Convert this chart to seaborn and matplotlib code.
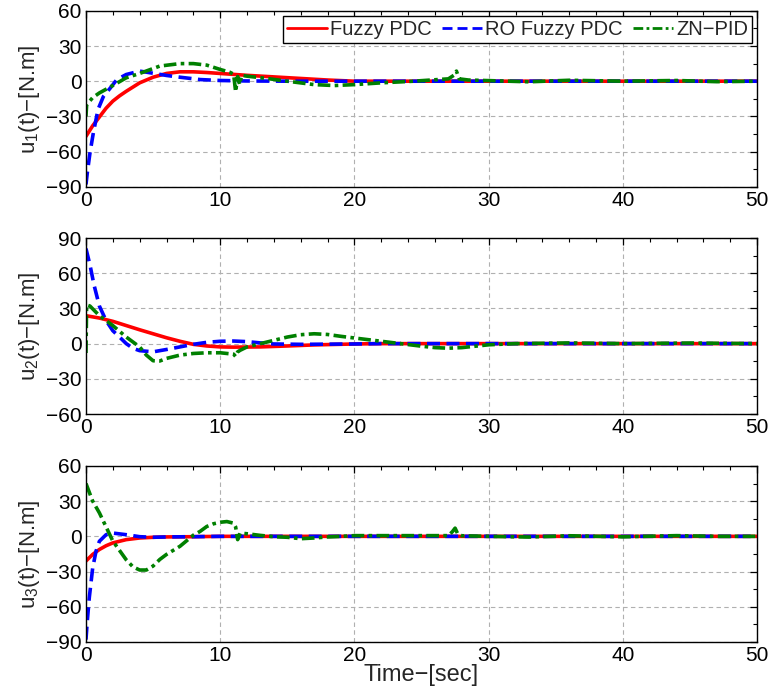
import numpy as np
import pandas as pd
import matplotlib
matplotlib.use("Agg")
import matplotlib.pyplot as plt
import seaborn as sns
from matplotlib.ticker import MultipleLocator

# ---------------- data ----------------
series_names = ["Fuzzy PDC", "RO Fuzzy PDC", "ZN\u2212PID"]

# Panel 1 : u1
t1_fz = [0, 0.5, 1, 1.5, 2, 2.5, 3, 4, 5, 6, 7, 8, 9, 10, 12, 15, 18, 20, 25, 30, 40, 50]
u1_fz = [-47, -38, -30.5, -23, -17, -12.5, -8.6, -1.4, 3.4, 6.6, 8, 8, 7.4, 6.6, 5, 3, 1, 0, 0, 0, 0, 0]
t1_ro = [0, 0.1, 0.3, 0.55, 0.9, 1.3, 1.8, 2.3, 3, 4, 4.5, 6, 7, 8.5, 10, 12, 15, 20, 50]
u1_ro = [-88, -78, -61, -44, -24, -13, -6, 1.4, 5.7, 8.6, 7.7, 4.9, 3.4, 1.4, 0.6, 0.2, 0, 0, 0]
t1_zn = [0, 0.05, 0.5, 1, 2, 3, 4, 5.5, 7, 8, 9, 10, 10.7, 11.0, 11.15, 11.3, 11.45, 11.6, 12,
         13.5, 15, 17, 18.5, 20, 22, 24.4, 27, 27.4, 27.6, 27.8, 28.5, 30, 33, 36, 40, 44, 47, 50]
u1_zn = [-30, -20, -14, -10, -3.7, 2.9, 6.6, 12.9, 15, 15, 13.7, 10, 7.7, 6, -9, 4, -3, 5, 4.3,
         2.3, 0, -2.9, -3.7, -2.9, -1.4, 0, 2, 5, 8.6, 2, 1, 0.5, -0.5, 0.8, 0, 0.6, -0.4, 0]

# Panel 2 : u2
t2_fz = [0, 1, 2, 3, 4, 5, 6, 7, 8, 9, 10, 11, 13, 15, 17, 20, 22, 30, 50]
u2_fz = [23.8, 21.8, 19, 15.4, 11.8, 8.4, 5, 2, -0.6, -2, -2.8, -3, -2.8, -2, -1.1, -0.3, 0, 0, 0]
t2_ro = [0, 0.3, 0.6, 1, 1.5, 2, 2.5, 3, 3.5, 4, 5, 6, 7, 8, 9, 10, 11, 12, 13, 14, 16, 20, 22, 50]
u2_ro = [81, 67, 50, 32, 19.6, 11, 5.6, 0, -4, -6, -7, -5, -2.8, -0.6, 1.1, 2, 2.2, 1.7, 0.6, -0.3, -0.6, -0.3, 0, 0]
t2_zn = [0, 0.05, 0.3, 1, 2, 3, 4, 4.5, 5, 5.5, 6, 7, 8, 9, 10, 11, 11.15, 11.3, 11.5, 12, 13, 14,
         15, 16, 17, 18, 19, 20, 21, 22, 23, 24, 25, 26, 27, 28, 29, 30, 32, 36, 40, 45, 50]
u2_zn = [-8, 33, 32, 23.8, 15.4, 5.6, -2.8, -9.8, -14.6, -14.8, -12.6, -9.8, -8.4, -7.8, -7.8, -9,
         -11, -7, -5.6, -2.8, 0, 2.8, 5.6, 7.6, 8.4, 7.8, 6.2, 4.8, 3.4, 2, 0.6, -0.8, -2.2, -3.4,
         -3.9, -3.4, -2.2, -1, 0, 0.6, 0, 0.5, 0]

# Panel 3 : u3
t3_fz = [0, 0.5, 1, 1.5, 2, 3, 4, 5, 6, 8, 10, 50]
u3_fz = [-21, -15.4, -11.2, -8, -5.6, -2.8, -1.4, -0.8, -0.5, -0.3, 0, 0]
t3_ro = [0, 0.1, 0.25, 0.5, 0.75, 1, 1.5, 2, 3, 4, 5, 6, 8, 10, 50]
u3_ro = [-88, -72, -52, -27, -12.6, -4.2, 1.4, 2.8, 1.4, -0.3, -0.8, -0.5, -0.3, 0, 0]
t3_zn = [0, 0.5, 1, 1.5, 2, 2.5, 3, 3.5, 4, 4.5, 5, 5.5, 6, 7, 8, 8.5, 9, 9.5, 10, 10.5, 11,
         11.15, 11.3, 11.5, 12, 13, 14, 15, 16, 17, 18, 19, 20, 27, 27.3, 27.5, 27.7, 28,
         30, 33, 36, 40, 44, 47, 50]
u3_zn = [45, 30, 20, 8, -4, -12, -20, -26, -28.7, -28.7, -25.3, -19.7, -15.4, -8.5, 1, 4.2, 8.4,
         10.7, 12, 12.6, 11.2, 8, -2.8, 2.8, 2.2, 0.8, -0.3, -0.8, -2, -1.4, -0.5, 0, 0.6, 0.6,
         4, 7, 2, 0.5, 0, -0.6, 0.5, -0.4, 0.6, 0, 0]

panels = [
    [(t1_fz, u1_fz), (t1_ro, u1_ro), (t1_zn, u1_zn)],
    [(t2_fz, u2_fz), (t2_ro, u2_ro), (t2_zn, u2_zn)],
    [(t3_fz, u3_fz), (t3_ro, u3_ro), (t3_zn, u3_zn)],
]
ylabels = ["u$_1$(t)\u2212[N.m]", "u$_2$(t)\u2212[N.m]", "u$_3$(t)\u2212[N.m]"]
ylims = [(-90, 60), (-60, 90), (-90, 60)]
xlabel = "Time\u2212[sec]"

# ---------------- style ----------------
sns.set_style("white")
plt.rcParams["font.family"] = ["Liberation Sans", "DejaVu Sans"]
plt.rcParams["mathtext.fontset"] = "custom"
plt.rcParams["mathtext.rm"] = "Liberation Sans"
plt.rcParams["mathtext.it"] = "Liberation Sans"

colors = ["#ff0000", "#0000ff", "#008000"]
styles = ["-", (0, (3.6, 1.8)), (0, (3.5, 1.2, 1.0, 1.2))]
lws = [2.6, 2.6, 2.6]

fig = plt.figure(figsize=(7.71, 6.97), dpi=100)
left, width = 0.1115, 0.8705
bottoms = [0.732, 0.406, 0.079]
height = 0.2525

axes = []
for i in range(3):
    ax = fig.add_axes([left, bottoms[i], width, height])
    axes.append(ax)
    for j, (tt, uu) in enumerate(panels[i]):
        df = pd.DataFrame({"t": tt, "u": uu})
        sns.lineplot(data=df, x="t", y="u", ax=ax, color=colors[j], lw=lws[j],
                     linestyle=styles[j], estimator=None, sort=True,
                     label=series_names[j] if i == 0 else None, legend=False)
    ax.set_xlim(0, 50)
    ax.set_ylim(*ylims[i])
    ax.xaxis.set_major_locator(MultipleLocator(10))
    ax.xaxis.set_minor_locator(MultipleLocator(2))
    ax.yaxis.set_major_locator(MultipleLocator(30))
    ax.yaxis.set_minor_locator(MultipleLocator(15))
    ax.grid(True, which="major", linestyle=(0, (4, 3)), color="#b0b0b0", lw=0.8)
    ax.tick_params(which="both", direction="in", top=True, right=True,
                   labelsize=15, colors="black", pad=3)
    ax.tick_params(which="major", length=5, width=0.9)
    ax.tick_params(which="minor", length=3, width=0.8)
    for s in ax.spines.values():
        s.set_color("black")
        s.set_linewidth(1.0)
    ax.set_ylabel(ylabels[i], fontsize=16, labelpad=3)
    ax.set_xlabel("")

axes[2].set_xlabel(xlabel, fontsize=17, labelpad=-1)

handles, labels = axes[0].get_legend_handles_labels()
leg = axes[0].legend(handles, labels, loc="upper right", ncol=3, fontsize=14.5,
                     frameon=True, fancybox=False, framealpha=1, edgecolor="black",
                     handlelength=2.0, handletextpad=0.15, columnspacing=0.5,
                     borderpad=0.2, borderaxespad=0.25)
leg.get_frame().set_linewidth(1.0)
for lh in leg.get_lines():
    lh.set_linewidth(2.0)

fig.savefig("out.png", dpi=100)
